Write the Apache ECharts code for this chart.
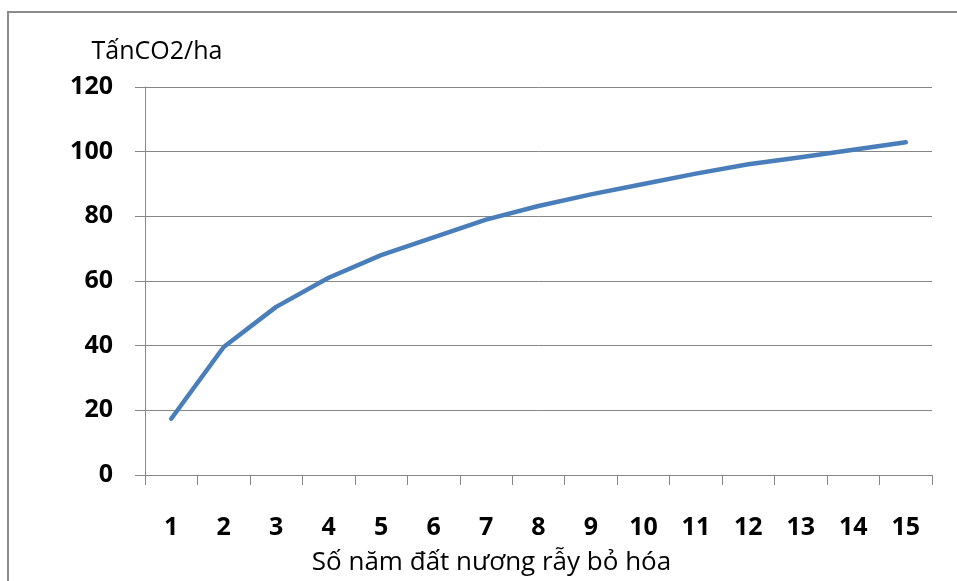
<!DOCTYPE html>
<html>
<head>
<meta charset="utf-8">
<script src="https://cdn.jsdelivr.net/npm/echarts@6/dist/echarts.min.js"></script>
<style>html,body{margin:0;padding:0;background:#fff;}#c{width:957px;height:581px;}</style>
</head>
<body>
<div id="c"></div>
<script>
var categories = ['1','2','3','4','5','6','7','8','9','10','11','12','13','14','15'];
var values = [17.4, 39.6, 52, 61, 68, 73.5, 79, 83.2, 86.8, 90, 93.2, 96.1, 98.3, 100.6, 102.9];
var yTicks = {min: 0, max: 120, interval: 20};
var yName = 'TấnCO2/ha';
var xName = 'Số năm đất nương rẫy bỏ hóa';

var gray = '#868686';
var font = '"Open Sans", "DejaVu Sans", sans-serif';
var chart = echarts.init(document.getElementById('c'));
chart.setOption({
  animation: false,
  backgroundColor: '#fff',
  graphic: [{
    type: 'rect', silent: true, z: -1,
    shape: {x: 8, y: 12, width: 1200, height: 1200},
    style: {fill: 'none', stroke: '#8c8c8c', lineWidth: 2}
  }],
  grid: {left: 145, right: 25, top: 87, bottom: 104},
  xAxis: {
    type: 'category',
    data: categories,
    boundaryGap: true,
    name: xName,
    nameLocation: 'middle',
    nameGap: 88,
    nameTextStyle: {fontFamily: font, fontSize: 26, color: '#000', verticalAlign: 'middle', padding: [0, 94, 0, 0]},
    axisLine: {show: true, lineStyle: {color: gray, width: 1}},
    axisTick: {show: true, length: 10, alignWithLabel: false, lineStyle: {color: gray}},
    axisLabel: {margin: 40, fontFamily: font, fontSize: 25, fontWeight: 'bold', color: '#000', interval: 0},
    splitLine: {show: false}
  },
  yAxis: {
    type: 'value',
    min: yTicks.min, max: yTicks.max, interval: yTicks.interval,
    name: yName,
    nameLocation: 'end',
    nameGap: 35,
    nameTextStyle: {fontFamily: font, fontSize: 25, color: '#000', align: 'center', verticalAlign: 'middle', padding: [0, 0, 0, 24]},
    axisLine: {show: true, lineStyle: {color: gray, width: 1}},
    axisTick: {show: true, length: 10, lineStyle: {color: gray}},
    axisLabel: {margin: 32, fontFamily: font, fontSize: 25, fontWeight: 'bold', color: '#000'},
    splitLine: {show: true, lineStyle: {color: gray, width: 1}}
  },
  series: [{
    type: 'line',
    data: values,
    showSymbol: false,
    symbol: 'none',
    lineStyle: {color: '#4a7ebb', width: 4.5, cap: 'round', join: 'round'},
    itemStyle: {color: '#4a7ebb'}
  }]
});
</script>
</body>
</html>
